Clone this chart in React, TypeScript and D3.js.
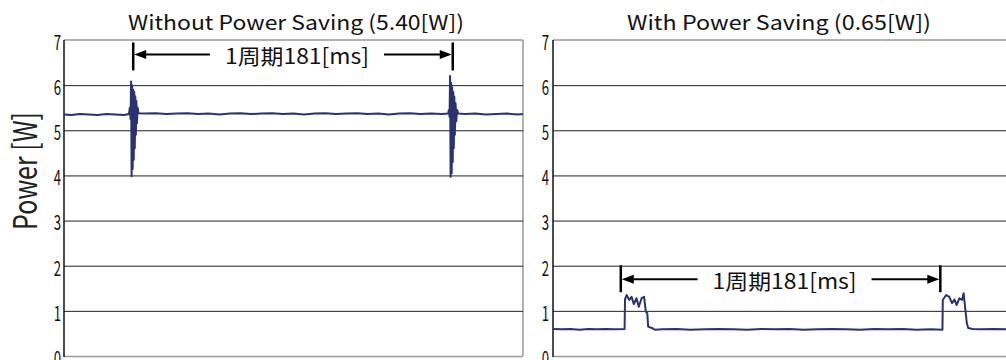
import React from 'react';
import * as d3 from 'd3';

// ---- data ----
const yTicks = [0, 1, 2, 3, 4, 5, 6, 7];
const titles = ['Without Power Saving (5.40[W])', 'With Power Saving (0.65[W])'];
const yLabel = 'Power [W]';
const periodLabel = '1周期181[ms]';
const periodMs = 181;
const timeDomain = [0, 260];

// Without power saving (time in ms, power in W)
const leftTime = [
  0, 4, 9, 14, 19, 24, 29, 34, 36.8, 37.3, 37.7, 38.0, 38.3, 38.6, 38.9, 39.2, 39.5, 39.8, 40.1, 40.4,
  40.7, 41.0, 41.3, 41.7, 42.2, 46, 52, 58, 64, 70, 76, 82, 88, 94, 100, 106, 112, 118, 124, 130, 136,
  142, 148, 154, 160, 166, 172, 178, 184, 190, 196, 202, 208, 214, 217.6, 218.0, 218.4, 218.7, 219.0,
  219.3, 219.6, 219.9, 220.2, 220.5, 220.8, 221.1, 221.4, 221.8, 222.2, 222.7, 223.3, 227, 233, 239,
  245, 251, 257, 260,
];
const leftPower = [
  5.35, 5.34, 5.36, 5.35, 5.34, 5.36, 5.35, 5.34, 5.36, 5.5, 5.25, 6.08, 3.98, 6.0, 4.15, 5.9, 4.35,
  5.85, 4.6, 5.75, 4.9, 5.65, 5.15, 5.5, 5.38, 5.37, 5.38, 5.36, 5.37, 5.38, 5.36, 5.37, 5.35, 5.37,
  5.38, 5.36, 5.37, 5.38, 5.36, 5.37, 5.35, 5.37, 5.38, 5.36, 5.37, 5.38, 5.36, 5.37, 5.35, 5.37, 5.38,
  5.36, 5.37, 5.36, 5.37, 5.45, 5.3, 6.2, 3.97, 6.05, 4.05, 5.95, 4.3, 5.85, 4.6, 5.75, 4.9, 5.6, 5.2,
  5.45, 5.37, 5.36, 5.37, 5.35, 5.36, 5.37, 5.35, 5.36,
];

// With power saving
const rightTime = [
  0, 5, 10, 15, 20, 25, 30, 35, 40.55, 40.8, 41.7, 43.2, 44.5, 45.8, 47.3, 48.6, 50.2, 51.6, 52.6, 53.4,
  53.9, 56.7, 57.7, 62, 70, 78, 86, 94, 102, 110, 118, 126, 134, 142, 150, 158, 166, 174, 182, 190, 198,
  206, 214, 220.6, 220.8, 222.7, 224.5, 226.0, 227.4, 228.7, 230.2, 231.7, 232.6, 233.6, 234.4, 235.2,
  237.7, 242, 250, 260,
];
const rightPower = [
  0.6, 0.59, 0.6, 0.58, 0.6, 0.59, 0.6, 0.59, 0.6, 1.26, 1.35, 1.24, 1.31, 1.15, 1.28, 1.09, 1.28, 1.31,
  0.98, 0.95, 0.65, 0.61, 0.58, 0.59, 0.6, 0.58, 0.59, 0.6, 0.59, 0.58, 0.6, 0.59, 0.6, 0.58, 0.59, 0.6,
  0.59, 0.58, 0.6, 0.59, 0.6, 0.58, 0.59, 0.58, 1.24, 1.35, 1.31, 1.17, 1.25, 1.13, 1.28, 1.24, 1.39,
  1.02, 0.73, 0.62, 0.6, 0.59, 0.6, 0.59,
];

// period annotation: start time (ms) and level (W)
const leftMarkStart = 39.2;
const leftMarkLevel = 6.68;
const rightMarkStart = 38.4;
const rightMarkLevel = 1.7;

const W = 1006;
const H = 360;
const TOP = 40;
const BOTTOM = 356;
const PANEL_W = 459;
const SERIES = '#2c3270';
const CJK = '"Noto Sans CJK JP", "Noto Sans", sans-serif';

type PanelProps = {
  x0: number;
  time: number[];
  power: number[];
  title: string;
  titleLen: number;
  titleCx: number;
  markStart: number;
  markLevel: number;
  barUp: number;
  barDown: number;
  labelRight: number;
};

function Panel(p: PanelProps) {
  const x = d3.scaleLinear().domain(timeDomain).range([p.x0, p.x0 + PANEL_W]);
  const y = d3.scaleLinear().domain([0, 7]).range([BOTTOM, TOP]);
  const pts = p.time.map((t, i) => [t, p.power[i]] as [number, number]);
  const line = d3
    .line<[number, number]>()
    .x((d) => x(d[0]))
    .y((d) => y(d[1]));

  const xa = x(p.markStart);
  const xb = x(p.markStart + periodMs);
  const ay = y(p.markLevel);
  const textW = 144;
  const tc = (xa + xb) / 2 + 4;
  const gap = 15;
  const head = 13;
  const hh = 4.5;
  const x1 = p.x0 + PANEL_W;

  return (
    <g>
      <text
        x={p.titleCx}
        y={30}
        textAnchor="middle"
        fontFamily={CJK}
        fontSize={20.5}
        textLength={p.titleLen}
        lengthAdjust="spacingAndGlyphs"
        fill="#111"
      >
        {p.title}
      </text>
      {/* frame */}
      <line x1={p.x0} x2={x1} y1={y(7)} y2={y(7)} stroke="#666" strokeWidth={1} />
      <line x1={p.x0} x2={x1} y1={y(0) + 0.5} y2={y(0) + 0.5} stroke="#999" strokeWidth={1.5} />
      <line x1={x1} x2={x1} y1={y(7)} y2={y(0)} stroke="#999" strokeWidth={1.5} />
      {yTicks
        .filter((t) => t > 0 && t < 7)
        .map((t) => (
          <line key={t} x1={p.x0} x2={x1} y1={y(t) + 0.5} y2={y(t) + 0.5} stroke="#222" strokeWidth={1} />
        ))}
      <line x1={p.x0} x2={p.x0} y1={y(7)} y2={y(0) + 1} stroke="#111" strokeWidth={1.5} />
      {yTicks.map((t) => (
        <text
          key={t}
          transform={`translate(${p.labelRight},${y(t) + 1}) scale(0.66,1)`}
          textAnchor="end"
          dominantBaseline="central"
          fontFamily={CJK}
          fontSize={20}
          fill="#111"
        >
          {t}
        </text>
      ))}
      {/* series */}
      <path d={line(pts) || ''} fill="none" stroke={SERIES} strokeWidth={2} strokeLinejoin="round" />
      {/* period annotation */}
      <line x1={xa} x2={xa} y1={ay - p.barUp} y2={ay + p.barDown} stroke="#000" strokeWidth={2.5} />
      <line x1={xb} x2={xb} y1={ay - p.barUp} y2={ay + p.barDown} stroke="#000" strokeWidth={2.5} />
      <line x1={xa + head - 1} x2={tc - textW / 2 - gap} y1={ay} y2={ay} stroke="#000" strokeWidth={2} />
      <line x1={tc + textW / 2 + gap} x2={xb - head + 1} y1={ay} y2={ay} stroke="#000" strokeWidth={2} />
      <polygon points={`${xa + 1},${ay} ${xa + head},${ay - hh} ${xa + head},${ay + hh}`} fill="#000" />
      <polygon points={`${xb - 1},${ay} ${xb - head},${ay - hh} ${xb - head},${ay + hh}`} fill="#000" />
      <rect x={tc - textW / 2 - 4} y={ay - 12} width={textW + 8} height={24} fill="#fff" />
      <text
        x={tc}
        y={ay + 1}
        textAnchor="middle"
        dominantBaseline="central"
        fontFamily={CJK}
        fontSize={21}
        textLength={textW}
        lengthAdjust="spacingAndGlyphs"
        fill="#111"
      >
        {periodLabel}
      </text>
    </g>
  );
}

export default function App() {
  return (
    <svg
      width={W}
      height={H}
      viewBox={`0 0 ${W} ${H}`}
      style={{ position: 'absolute', left: 0, top: 0, display: 'block', background: '#fff' }}
    >
      <rect x={0} y={0} width={W} height={H} fill="#fff" />
      <defs>
        <clipPath id="leftClip">
          <rect x={0} y={0} width={538} height={H} />
        </clipPath>
      </defs>
      <g clipPath="url(#leftClip)">
        <Panel
          x0={64}
          time={leftTime}
          power={leftPower}
          title={titles[0]}
          titleLen={336}
          titleCx={296}
          markStart={leftMarkStart}
          markLevel={leftMarkLevel}
          barUp={12}
          barDown={16}
          labelRight={61}
        />
      </g>
      <Panel
        x0={553}
        time={rightTime}
        power={rightPower}
        title={titles[1]}
        titleLen={304}
        titleCx={779}
        markStart={rightMarkStart}
        markLevel={rightMarkLevel}
        barUp={14}
        barDown={13}
        labelRight={549}
      />
      <text
        transform="translate(37,171) rotate(-90)"
        textAnchor="middle"
        fontFamily={CJK}
        fontSize={33}
        textLength={118}
        lengthAdjust="spacingAndGlyphs"
        fill="#222"
      >
        {yLabel}
      </text>
    </svg>
  );
}
